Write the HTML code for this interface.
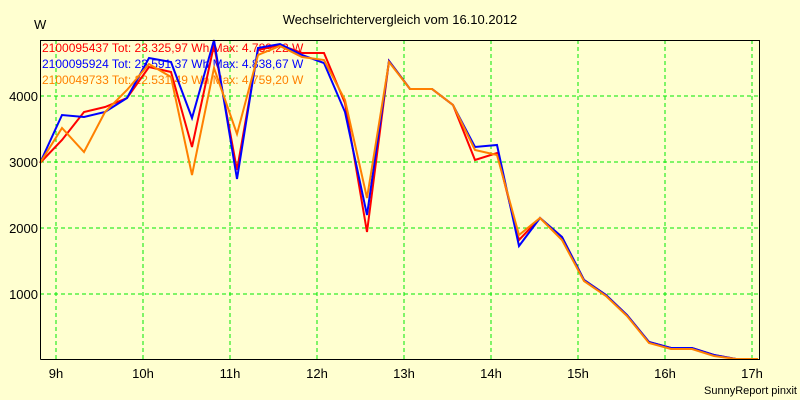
<!DOCTYPE html>
<html><head><meta charset="utf-8"><style>
body{margin:0;background:#ffffd0;}
svg{display:block;font-family:"Liberation Sans",sans-serif;}
</style></head><body>
<svg width="800" height="400" viewBox="0 0 800 400">
<rect width="800" height="400" fill="#ffffd0"/>
<text x="400" y="24" font-size="13" text-anchor="middle">Wechselrichtervergleich vom 16.10.2012</text>
<text x="34" y="29" font-size="13">W</text>
<g stroke="#00e800" stroke-dasharray="4,3" stroke-width="1">
<line x1="56" y1="40" x2="56" y2="359"/><line x1="143" y1="40" x2="143" y2="359"/>
<line x1="230" y1="40" x2="230" y2="359"/><line x1="317" y1="40" x2="317" y2="359"/>
<line x1="404" y1="40" x2="404" y2="359"/><line x1="491" y1="40" x2="491" y2="359"/>
<line x1="578" y1="40" x2="578" y2="359"/><line x1="665" y1="40" x2="665" y2="359"/>
<line x1="752" y1="40" x2="752" y2="359"/>
<line x1="40" y1="96" x2="759" y2="96"/><line x1="40" y1="162" x2="759" y2="162"/>
<line x1="40" y1="228" x2="759" y2="228"/><line x1="40" y1="294" x2="759" y2="294"/>
</g>
<g font-size="13" text-anchor="end">
<text x="38" y="101">4000</text><text x="38" y="167">3000</text>
<text x="38" y="233">2000</text><text x="38" y="299">1000</text>
</g>
<g font-size="13" text-anchor="middle">
<text x="56" y="378">9h</text><text x="143" y="378">10h</text><text x="230" y="378">11h</text>
<text x="317" y="378">12h</text><text x="404" y="378">13h</text><text x="491" y="378">14h</text>
<text x="578" y="378">15h</text><text x="665" y="378">16h</text><text x="752" y="378">17h</text>
</g>
<text x="797" y="394" font-size="11" text-anchor="end">SunnyReport pinxit</text>
<g font-size="12">
<text x="42" y="52" fill="#ff0000">2100095437 Tot: 23.325,97 Wh Max: 4.789,22 W</text>
<text x="42" y="68" fill="#0000ff">2100095924 Tot: 23.591,37 Wh Max: 4.838,67 W</text>
<text x="42" y="84" fill="#ff8000">2100049733 Tot: 22.531,49 Wh Max: 4.759,20 W</text>
</g>
<g fill="none" stroke-width="2">
<polyline stroke="#ff0000" points="40,163 62,140 84,112 105,107 127,98 149,67 171,72 192,147 214,45 237,170 258,50 280,45 302,53 324,53 345,103 367,232 389,61 410,89 432,89 453,105 475,160 497,153 519,240 540,218 562,237 584,280 606,295 627,315 649,342 671,348 692,348 714,355 736,359 758,359"/>
<polyline stroke="#0000ff" points="40,163 62,115 84,117 105,112 127,98 149,58 171,62 192,118 214,40 237,179 258,48 280,44 302,55 324,63 345,112 367,215 389,61 410,89 432,89 453,105 475,147 497,145 519,246 540,218 562,237 584,280 606,295 627,315 649,342 671,348 692,348 714,355 736,359 758,359"/>
<polyline stroke="#ff8000" points="40,163 62,128 84,152 105,112 127,90 149,64 171,77 192,175 214,68 237,134 258,55 280,46 302,57 324,60 345,100 367,198 389,62 410,89 432,89 453,105 475,150 497,155 519,235 540,218 562,240 584,281 606,296 627,316 649,343 671,349 692,349 714,356 736,359 758,359"/>
</g>
<polyline fill="none" stroke="#000" stroke-width="1" points="40.5,359.5 40.5,40.5 759.5,40.5 759.5,359.5 40.5,359.5"/>
</svg>
</body></html>
